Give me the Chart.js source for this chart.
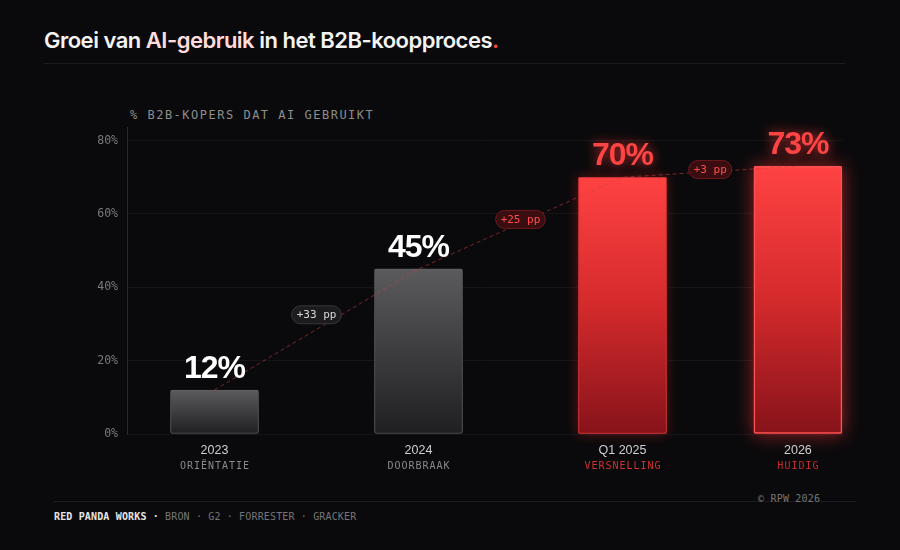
<!DOCTYPE html>
<html><head><meta charset="utf-8">
<script src="https://cdn.jsdelivr.net/npm/chart.js@4.4.0/dist/chart.umd.min.js"></script>
<style>
html,body{margin:0;padding:0;background:#0a0a0c;}
#wrap{position:relative;width:900px;height:550px;overflow:hidden;background:#0a0a0c;}
#title{position:absolute;left:44px;top:29px;font:600 22px Inter,"Liberation Sans",sans-serif;line-height:22px;color:#f3f3f3;letter-spacing:-0.5px;white-space:nowrap;}
#title .hl{color:#ffdcdc;}
#title .dot{color:#ff4545;}
.rule{position:absolute;height:1px;background:#1c1c20;}
#ytitle{position:absolute;left:130px;top:108px;font:12px "DejaVu Sans Mono",monospace;line-height:14px;letter-spacing:1.5px;color:#8d8d8d;white-space:nowrap;}
#footer{position:absolute;left:54px;top:511px;font:10px "DejaVu Sans Mono",monospace;line-height:12px;letter-spacing:0.15px;white-space:nowrap;color:#767676;}
#footer b{color:#e6e6e6;}
#copy{position:absolute;left:758px;top:493px;font:10px "DejaVu Sans Mono",monospace;line-height:12px;letter-spacing:0.2px;color:#767676;white-space:nowrap;}
#chartbox{position:absolute;left:0;top:0;width:900px;height:550px;}
</style></head>
<body>
<div id="wrap">
  <div id="title">Groei van <span class="hl">AI-gebruik</span> in het B2B-koopproces<span class="dot">.</span></div>
  <div class="rule" style="left:44px;top:63px;width:801px;"></div>
  <div id="ytitle">% B2B-KOPERS DAT AI GEBRUIKT</div>
  <div class="rule" style="left:54px;top:501px;width:802px;"></div>
  <div id="copy">© RPW 2026</div>
  <div id="footer"><b>RED PANDA WORKS · </b>BRON · G2 · FORRESTER · GRACKER</div>
  <div id="chartbox"><canvas id="c"></canvas></div>
</div>
<script>
// ---- data ----
const periods   = ['2023', '2024', 'Q1 2025', '2026'];
const phases    = ['ORIËNTATIE', 'DOORBRAAK', 'VERSNELLING', 'HUIDIG'];
const values    = [12, 45, 70, 73];
const highlight = [false, false, true, true];
const slots     = [0, 1, 2, 2.86];          // bar positions along the axis
const pillLevels = [32.5, 58.5, 72.1];      // vertical anchor of the change pills (% units)
const yTicks    = [0, 20, 40, 60, 80];

const points = values.map((v, i) => ({x: slots[i], y: v}));

function barFill(ctx) {
  const chart = ctx.chart;
  const i = ctx.dataIndex;
  const fallback = highlight[i] ? '#d42a2c' : '#3a3a3c';
  const ys = chart.scales && chart.scales.y;
  if (!chart.chartArea || !ys || i === undefined) return fallback;
  const top = ys.getPixelForValue(values[i]);
  const bot = ys.getPixelForValue(0);
  if (!isFinite(top) || !isFinite(bot)) return fallback;
  const g = chart.ctx.createLinearGradient(0, top, 0, bot);
  if (highlight[i]) {
    g.addColorStop(0, '#ff4242');
    g.addColorStop(0.5, '#d42a2c');
    g.addColorStop(1, '#86131a');
  } else {
    g.addColorStop(0, '#5b5b5d');
    g.addColorStop(1, '#1f1f21');
  }
  return g;
}

const glowPlugin = {
  id: 'glow',
  beforeDatasetDraw(chart, args) {
    if (args.meta.type !== 'bar') return;
    const ctx = chart.ctx;
    args.meta.data.forEach((el, i) => {
      if (!highlight[i]) return;
      const p = el.getProps(['x', 'y', 'base', 'width'], true);
      ctx.save();
      ctx.shadowColor = i === 3 ? 'rgba(255,55,55,0.6)' : 'rgba(255,50,50,0.35)';
      ctx.shadowBlur = i === 3 ? 18 : 12;
      ctx.fillStyle = '#e03535';
      ctx.fillRect(p.x - p.width / 2, p.y, p.width, p.base - p.y);
      ctx.restore();
    });
  }
};

function roundRect(ctx, x, y, w, h, r) {
  ctx.beginPath();
  ctx.moveTo(x + r, y);
  ctx.lineTo(x + w - r, y);
  ctx.arc(x + w - r, y + r, r, -Math.PI / 2, Math.PI / 2);
  ctx.lineTo(x + r, y + h);
  ctx.arc(x + r, y + r, r, Math.PI / 2, Math.PI * 1.5);
  ctx.closePath();
}

const labelPlugin = {
  id: 'labels',
  afterDatasetsDraw(chart) {
    const ctx = chart.ctx;
    const xs = chart.scales.x, ys = chart.scales.y;
    const barMeta = chart.getDatasetMeta(1);

    // change pills
    for (let i = 0; i < values.length - 1; i++) {
      const x1 = xs.getPixelForValue(slots[i]), x2 = xs.getPixelForValue(slots[i + 1]);
      const cx = (x1 + x2) / 2;
      const cy = ys.getPixelForValue(pillLevels[i]);
      const txt = '+' + (values[i + 1] - values[i]) + ' pp';
      ctx.save();
      ctx.font = '11px "DejaVu Sans Mono", monospace';
      const tw = ctx.measureText(txt).width;
      const w = tw + 10, h = 18;
      roundRect(ctx, cx - w / 2, cy - h / 2, w, h, 9);
      const red = highlight[i + 1];
      ctx.fillStyle = red ? '#3a0e11' : '#1c1c1f';
      ctx.fill();
      ctx.lineWidth = 1;
      ctx.strokeStyle = red ? '#6e1a1e' : '#38383d';
      ctx.stroke();
      ctx.fillStyle = red ? '#ff4d4d' : '#d6d6d6';
      ctx.textAlign = 'center';
      ctx.textBaseline = 'middle';
      ctx.fillText(txt, cx, cy + 0.5);
      ctx.restore();
    }

    // value labels
    barMeta.data.forEach((el, i) => {
      const p = el.getProps(['x', 'y'], true);
      ctx.save();
      ctx.font = 'bold 32px "Liberation Sans", Arial, sans-serif';
      ctx.letterSpacing = '-1px';
      ctx.textAlign = 'center';
      ctx.textBaseline = 'alphabetic';
      if (highlight[i]) {
        ctx.shadowColor = 'rgba(255,60,60,0.8)';
        ctx.shadowBlur = 12;
        ctx.fillStyle = '#ff4444';
      } else {
        ctx.fillStyle = '#ffffff';
      }
      ctx.fillText(values[i] + '%', p.x, p.y - 12);
      ctx.restore();
    });

    // category labels
    periods.forEach((lab, i) => {
      const x = xs.getPixelForValue(slots[i]);
      ctx.save();
      ctx.textAlign = 'center';
      ctx.textBaseline = 'middle';
      ctx.font = '12.5px "Liberation Sans", Arial, sans-serif';
      ctx.fillStyle = '#cfcfcf';
      ctx.fillText(lab, x, 451);
      ctx.font = '10px "DejaVu Sans Mono", monospace';
      ctx.letterSpacing = '1px';
      ctx.fillStyle = highlight[i] ? (i === 3 ? '#c42a2e' : '#d03234') : '#8a8a8a';
      ctx.fillText(phases[i], x + 0.5, 466);
      ctx.restore();
    });
  }
};

new Chart(document.getElementById('c'), {
  data: {
    datasets: [
      {
        type: 'line',
        data: points,
        order: 0,
        borderColor: 'rgba(215,60,62,0.55)',
        borderWidth: 1,
        borderDash: [4, 3],
        pointRadius: 0,
        fill: false,
        tension: 0
      },
      {
        type: 'bar',
        data: points,
        order: 1,
        barThickness: 88,
        backgroundColor: barFill,
        borderColor: ctx => highlight[ctx.dataIndex] ? (ctx.dataIndex === 3 ? '#ff5252' : '#c93236') : '#616164',
        borderWidth: ctx => ctx.dataIndex === 3 ? 1.5 : 1,
        borderRadius: 2,
        borderSkipped: false
      }
    ]
  },
  options: {
    responsive: true,
    maintainAspectRatio: false,
    animation: false,
    layout: { padding: { top: 127, right: 57, bottom: 116, left: 0 } },
    plugins: { legend: { display: false }, tooltip: { enabled: false } },
    scales: {
      x: {
        type: 'linear',
        display: false,
        offset: false,
        min: -0.429,
        max: 3.081
      },
      y: {
        min: 0,
        max: 83.7,
        afterBuildTicks: s => { s.ticks = yTicks.map(v => ({ value: v })); },
        afterFit: s => { s.width = 127; },
        grid: { color: '#151518', drawTicks: false },
        border: { display: true, color: '#2a2a2e' },
        ticks: {
          padding: 9,
          color: '#7a7a7a',
          font: { family: '"DejaVu Sans Mono", monospace', size: 11.5 },
          callback: v => v + '%'
        }
      }
    }
  },
  plugins: [glowPlugin, labelPlugin]
});
</script>
</body></html>
